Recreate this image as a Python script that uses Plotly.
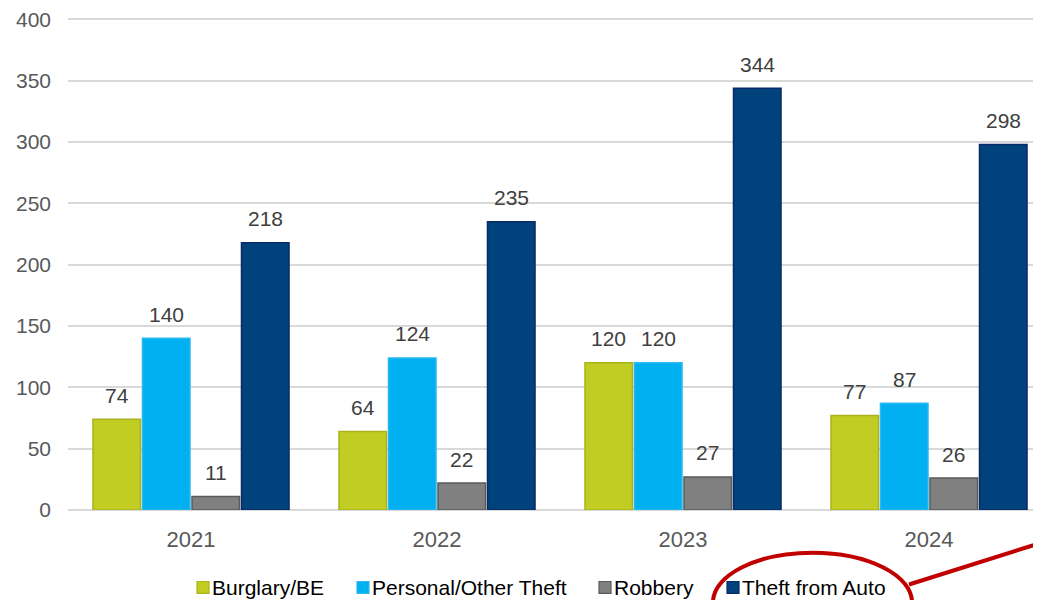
import plotly.graph_objects as go

years = ["2021", "2022", "2023", "2024"]
series_names = ["Burglary/BE", "Personal/Other Theft", "Robbery", "Theft from Auto"]
burglary = [74, 64, 120, 77]
personal = [140, 124, 120, 87]
robbery = [11, 22, 27, 26]
theft_auto = [218, 235, 344, 298]
y_ticks = [0, 50, 100, 150, 200, 250, 300, 350, 400]

series_values = [burglary, personal, robbery, theft_auto]
fills = ["#c2cd23", "#00b0f0", "#808080", "#00427c"]
borders = ["#a9b41c", "#2ab8f0", "#5a5a5a", "#0a2a66"]

# page body has an 8px margin; figure is laid out in page pixel terms
OFF = 8
PAGE_W, PAGE_H = 1041, 600
Y_MAX = 402
PX_PER_UNIT = 494 / 400
PB = 510                          # plot bottom (value 0) on the page
PL = 68
PT = PB - Y_MAX * PX_PER_UNIT     # plot top on the page
PR = PAGE_W
W, H = PAGE_W - OFF, PAGE_H - OFF
ML, MT, MR = PL - OFF, PT - OFF, 0
MB = H - (PB - OFF)
PW = PR - PL
PH = PB - PT

def px(x):
    return (x - PL) / PW

def py(y):
    return (PB - y) / PH

FONT = "Liberation Sans, Arial, sans-serif"
bargap = 0.195
slot = (1 - bargap) / 4

fig = go.Figure()
for i, (name, vals) in enumerate(zip(series_names, series_values)):
    fig.add_trace(go.Bar(
        x=years, y=vals, name=name,
        marker=dict(color=fills[i], line=dict(color=borders[i], width=1.5)),
        showlegend=False,
    ))

annotations = []
for i, vals in enumerate(series_values):
    for j, v in enumerate(vals):
        annotations.append(dict(
            x=j + (i - 1.5) * slot, y=v, xref="x", yref="y",
            text=str(v), showarrow=False, yshift=24, yanchor="middle",
            font=dict(family=FONT, size=21, color="#404040"),
        ))

# manual legend
legend_x = [197, 357, 599, 727]
legend_y = 588
shapes = []
for i, name in enumerate(series_names):
    x0 = legend_x[i]
    shapes.append(dict(type="rect", xref="paper", yref="paper",
                       x0=px(x0), x1=px(x0 + 12), y0=py(legend_y + 6), y1=py(legend_y - 6),
                       fillcolor=fills[i], line=dict(color=borders[i], width=1.2)))
    annotations.append(dict(
        x=px(x0 + 13), y=py(legend_y), xref="paper", yref="paper",
        text=name, showarrow=False, xanchor="left", yanchor="middle",
        font=dict(family=FONT, size=21, color="#000000"),
    ))

# red callout ellipse and line
shapes.append(dict(type="circle", xref="paper", yref="paper",
                   x0=px(713), x1=px(912), y0=py(653), y1=py(553),
                   line=dict(color="#c00000", width=4)))
shapes.append(dict(type="line", xref="paper", yref="paper",
                   x0=px(909), y0=py(585), x1=px(1060), y1=py(537),
                   line=dict(color="#c00000", width=4)))

fig.update_layout(
    width=W, height=H,
    margin=dict(l=ML, r=MR, t=MT, b=MB, pad=0),
    paper_bgcolor="white", plot_bgcolor="white",
    barmode="group", bargap=bargap, bargroupgap=0.04,
    font=dict(family=FONT, size=21, color="#595959"),
    xaxis=dict(type="category", range=[-0.5, -0.5 + PW / 246], showgrid=False,
               showline=False, ticks="", ticklabelstandoff=14,
               tickfont=dict(size=22, color="#595959"), zeroline=False),
    yaxis=dict(range=[0, Y_MAX], tickvals=y_ticks, showgrid=True, gridcolor="#d9d9d9",
               gridwidth=1.5, zeroline=True, zerolinecolor="#d9d9d9", zerolinewidth=1.5,
               showline=False, ticks="", ticklabelstandoff=16, ticklabeloverflow="allow",
               tickfont=dict(size=21, color="#595959")),
    annotations=annotations,
    shapes=shapes,
    showlegend=False,
)

fig.write_html("out.html")
